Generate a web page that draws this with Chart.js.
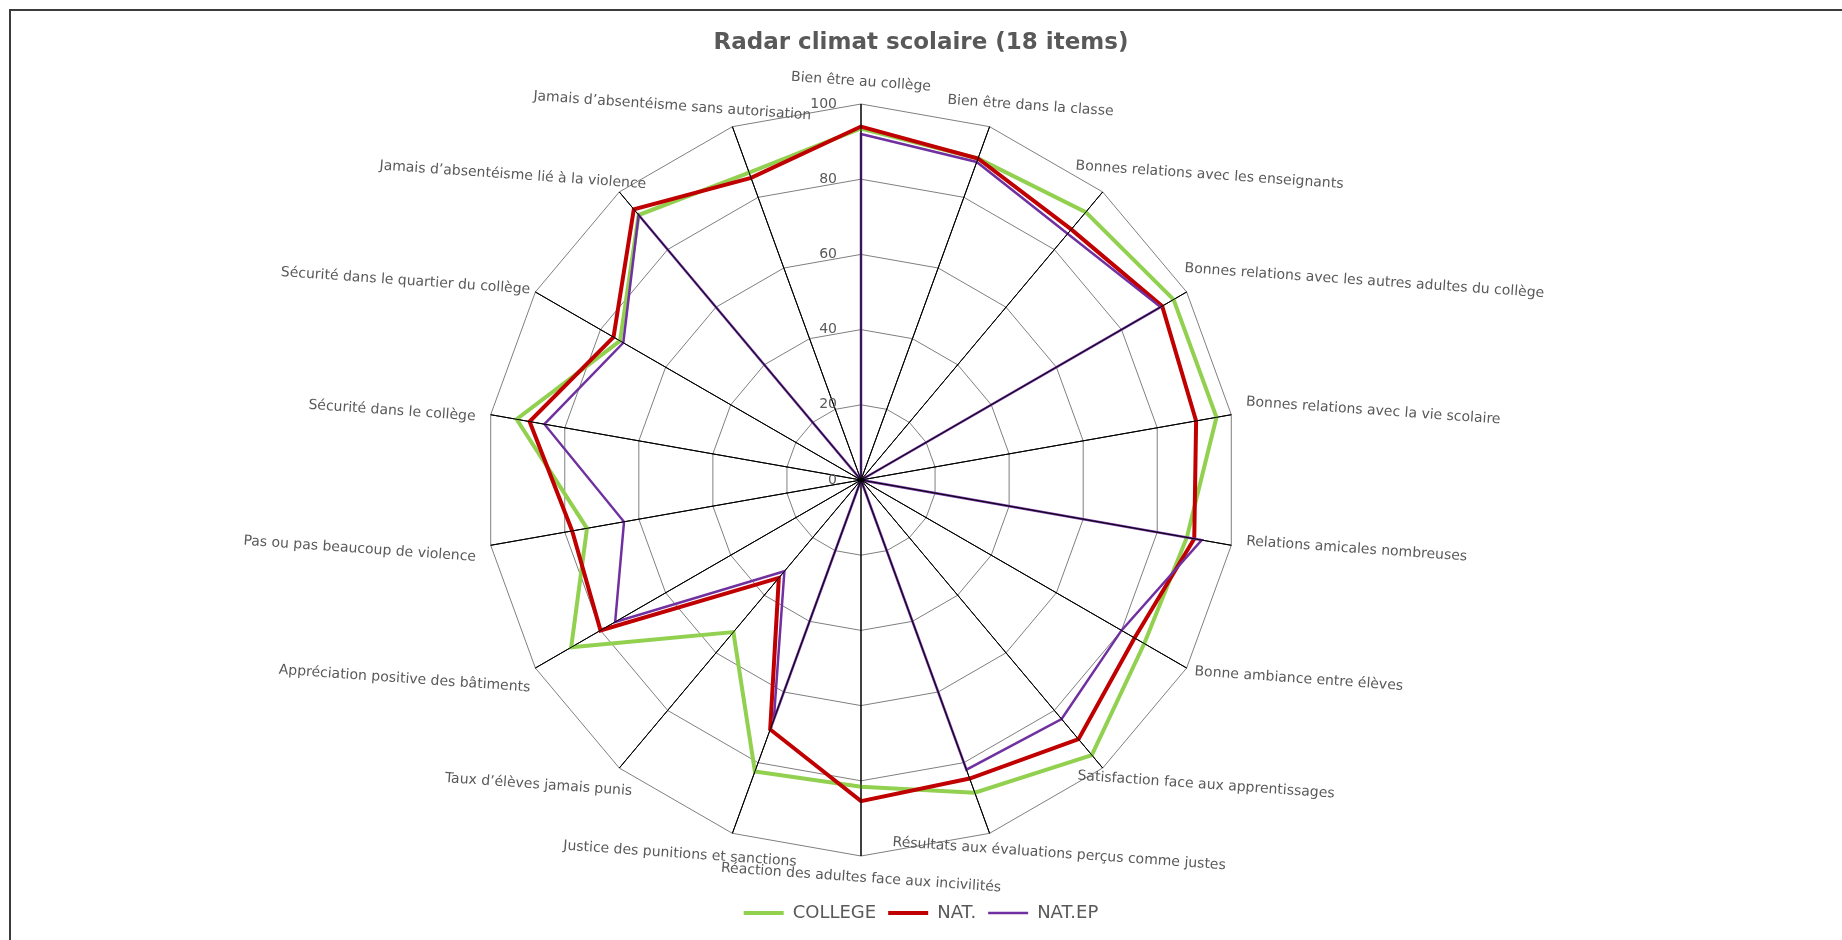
<!DOCTYPE html>
<html lang="fr">
<head>
<meta charset="utf-8">
<title>Radar climat scolaire</title>
<script src="https://cdn.jsdelivr.net/npm/chart.js@4.4.1/dist/chart.umd.min.js"></script>
<style>
  html, body { margin: 0; padding: 0; background: #fff; }
  #wrap { position: relative; width: 1842px; height: 940px; overflow: hidden; }
  #frame {
    position: absolute; left: 9px; top: 9px; right: -10px; bottom: -10px;
    border-left: 2px solid #3c3c3c; border-top: 2px solid #3c3c3c;
    pointer-events: none;
  }
</style>
</head>
<body>
<div id="wrap">
  <canvas id="radarChart" width="1842" height="940"></canvas>
  <div id="frame"></div>
</div>
<script>
const categories = [
  'Bien être au collège',
  'Bien être dans la classe',
  'Bonnes relations avec les enseignants',
  'Bonnes relations avec les autres adultes du collège',
  'Bonnes relations avec la vie scolaire',
  'Relations amicales nombreuses',
  'Bonne ambiance entre élèves',
  'Satisfaction face aux apprentissages',
  'Résultats aux évaluations perçus comme justes',
  'Réaction des adultes face aux incivilités',
  'Justice des punitions et sanctions',
  'Taux d\u2019élèves jamais punis',
  'Appréciation positive des bâtiments',
  'Pas ou pas beaucoup de violence',
  'Sécurité dans le collège',
  'Sécurité dans le quartier du collège',
  'Jamais d\u2019absentéisme lié à la violence',
  'Jamais d\u2019absentéisme sans autorisation'
];

const college = [93.5, 91, 93, 96, 96, 88, 87, 95.5, 88.5, 81.6, 82.5, 52.8, 89, 74, 93, 74, 92, 87];
const nat     = [94, 91, 87, 92.5, 90.5, 90, 84, 90, 84.5, 85.4, 70.6, 34, 80, 78, 89.5, 76, 94, 85.5];
const natEp   = [92, 90, 85.5, 92, 0, 92, 80, 83, 82, 0, 67.8, 31.7, 75.5, 64, 85.5, 73, 92, 0];

const tickValues = [0, 20, 40, 60, 80, 100];

const textGrey = '#595959';
const radarShiftX = -60; // the radar sits left of the page centre

// spokes redrawn over the lines, tick values beside the vertical axis,
// and slightly tilted category labels like in the original export
const radarExtras = {
  id: 'radarExtras',
  afterDatasetsDraw(chart) {
    const r = chart.scales.r;
    const ctx = chart.ctx;
    ctx.save();

    ctx.strokeStyle = '#000';
    ctx.lineWidth = 1;
    categories.forEach((c, i) => {
      const p = r.getPointPosition(i, r.drawingArea);
      ctx.beginPath();
      ctx.moveTo(r.xCenter, r.yCenter);
      ctx.lineTo(p.x, p.y);
      ctx.stroke();
    });

    ctx.fillStyle = textGrey;
    ctx.font = '14px "DejaVu Sans"';
    ctx.textAlign = 'right';
    ctx.textBaseline = 'middle';
    tickValues.forEach(v => {
      ctx.fillText(String(v), r.xCenter - 24, r.yCenter - r.getDistanceFromCenterForValue(v));
    });

    ctx.textAlign = 'center';
    categories.forEach((c, i) => {
      const a = r.getIndexAngle(i);
      const p = r.getPointPosition(i, r.drawingArea);
      const w = ctx.measureText(c).width;
      const gap = 12 + 26 * Math.abs(Math.cos(a));
      const cx = p.x + Math.sin(a) * (gap + w / 2);
      const cy = p.y - Math.cos(a) * 22;
      ctx.save();
      ctx.translate(cx, cy);
      ctx.rotate(4 * Math.PI / 180);
      ctx.fillText(c, 0, 0);
      ctx.restore();
    });

    ctx.restore();
  }
};

const ctx = document.getElementById('radarChart').getContext('2d');

const radarChart = new Chart(ctx, {
  type: 'radar',
  data: {
    labels: categories,
    datasets: [{
      label: 'COLLEGE',
      data: college,
      borderColor: '#92D050',
      backgroundColor: '#92D050',
      borderWidth: 4,
      order: 3
    }, {
      label: 'NAT.',
      data: nat,
      borderColor: '#C00000',
      backgroundColor: '#C00000',
      borderWidth: 4,
      order: 2
    }, {
      label: 'NAT.EP',
      data: natEp,
      borderColor: '#7030A0',
      backgroundColor: '#7030A0',
      borderWidth: 2.5,
      order: 1
    }]
  },
  options: {
    responsive: false,
    animation: false,
    layout: {
      padding: { top: 0, bottom: 8, left: 0, right: 0 }
    },
    elements: {
      line: { fill: false, tension: 0 },
      point: { radius: 0, hoverRadius: 0 }
    },
    plugins: {
      title: {
        display: true,
        text: 'Radar climat scolaire (18 items)',
        color: textGrey,
        font: { family: 'DejaVu Sans', size: 23, weight: 'bold' },
        padding: { top: 29, bottom: 48 }
      },
      legend: {
        position: 'bottom',
        title: { display: true, text: '', padding: { top: 0, bottom: 21 } },
        labels: {
          usePointStyle: true,
          pointStyle: 'line',
          pointStyleWidth: 40,
          padding: 12,
          color: textGrey,
          font: { family: 'DejaVu Sans', size: 18 },
          sort: (a, b) => a.datasetIndex - b.datasetIndex
        }
      },
      tooltip: { enabled: false }
    },
    scales: {
      r: {
        min: 0,
        max: 100,
        ticks: { stepSize: 20, display: false },
        grid: { color: '#7f7f7f', lineWidth: 1 },
        angleLines: { color: '#000', lineWidth: 1 },
        pointLabels: { display: false },
        afterFit: scale => { scale.xCenter += radarShiftX; }
      }
    }
  },
  plugins: [radarExtras]
});
</script>
</body>
</html>
